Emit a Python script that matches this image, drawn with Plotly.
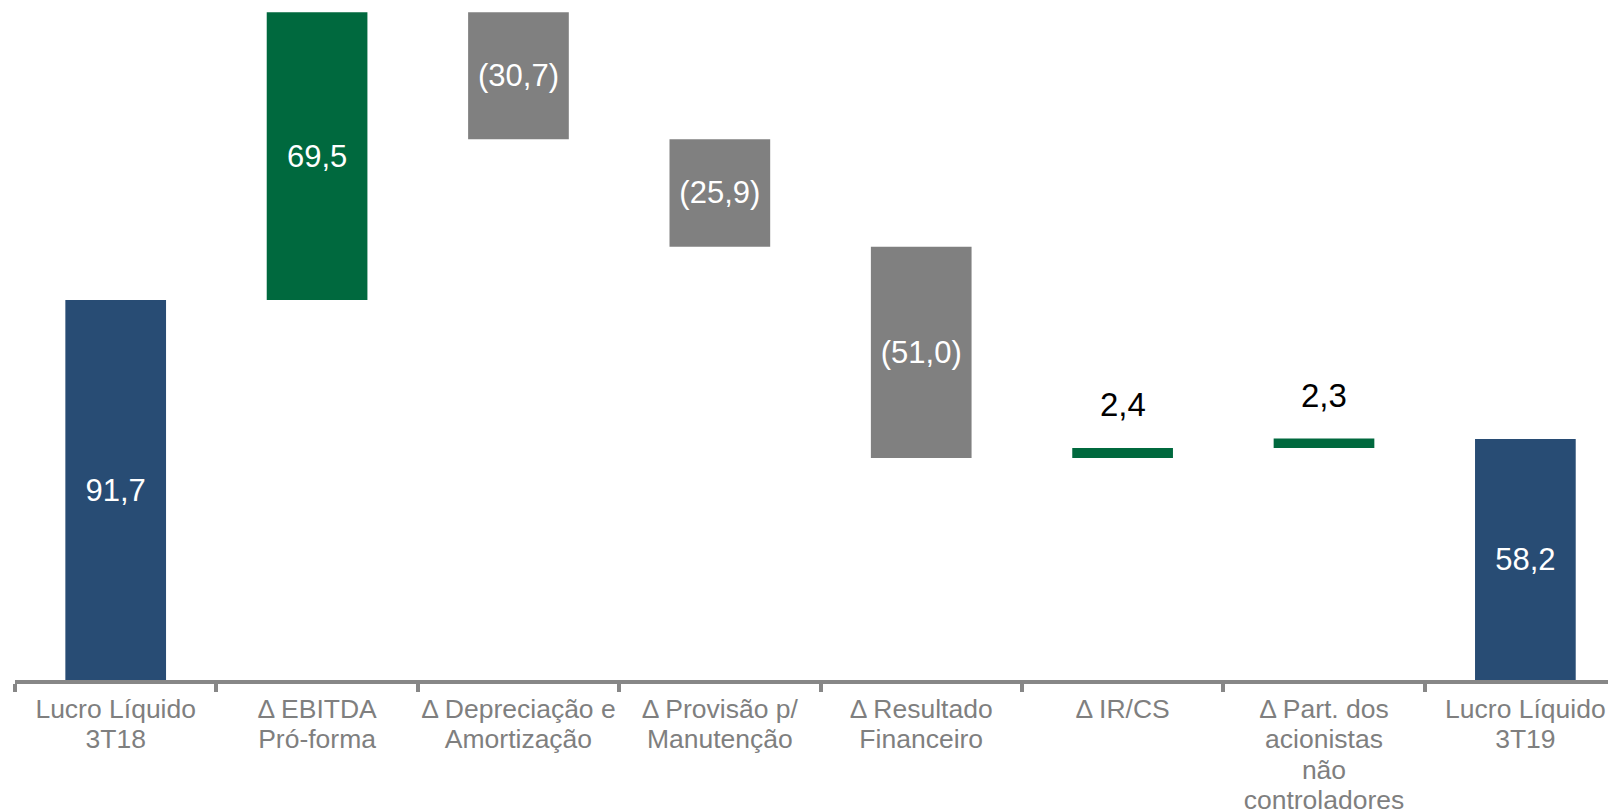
import plotly.graph_objects as go

categories = ["Lucro Líquido 3T18", "Δ EBITDA Pró-forma", "Δ Depreciação e Amortização",
              "Δ Provisão p/ Manutenção", "Δ Resultado Financeiro", "Δ IR/CS",
              "Δ Part. dos acionistas não controladores", "Lucro Líquido 3T19"]
tick_lines = [["Lucro Líquido", "3T18"], ["Δ EBITDA", "Pró-forma"], ["Δ Depreciação e", "Amortização"],
              ["Δ Provisão p/", "Manutenção"], ["Δ Resultado", "Financeiro"], ["Δ IR/CS"],
              ["Δ Part. dos", "acionistas", "não", "controladores"], ["Lucro Líquido", "3T19"]]
values = [91.7, 69.5, -30.7, -25.9, -51.0, 2.4, 2.3, 58.2]
measures = ["absolute", "relative", "relative", "relative", "relative", "relative", "relative", "absolute"]
inside_label = [True, True, True, True, True, False, False, True]

BLUE = "#284C74"
GREEN = "#00693E"
GRAY = "#808080"
AXIS_GRAY = "#878787"
LABEL_GRAY = "#7F7F7F"
FONT = "Liberation Sans, Arial, sans-serif"


def fmt(v):
    s = f"{abs(v):.1f}".replace(".", ",")
    return f"({s})" if v < 0 else s


texts = [fmt(v) if ins else "" for v, ins in zip(values, inside_label)]
tick_labels = ["<br>".join(f'<span style="font-size:26.5px">{ln}</span>' for ln in lines)
               for lines in tick_lines]

fig = go.Figure(go.Waterfall(
    x=categories,
    y=values,
    measure=measures,
    text=texts,
    textposition="inside",
    insidetextanchor="middle",
    textfont=dict(family=FONT, size=31, color="white"),
    increasing=dict(marker=dict(color=GREEN)),
    decreasing=dict(marker=dict(color=GRAY)),
    totals=dict(marker=dict(color=BLUE)),
    connector=dict(visible=False),
    width=0.5,
    hoverinfo="skip",
))

# outside labels above the thin bars
running = 0.0
for cat, v, m, ins in zip(categories, values, measures, inside_label):
    running = v if m == "absolute" else running + v
    top = max(running, running - v) if m == "relative" else running
    if not ins:
        fig.add_annotation(x=cat, y=top, text=fmt(v), showarrow=False,
                           yanchor="middle", yshift=43,
                           font=dict(family=FONT, size=33, color="black"))

fig.update_layout(
    width=1608, height=803,
    margin=dict(l=7, r=0, t=0, b=131),
    paper_bgcolor="white", plot_bgcolor="white",
    showlegend=False,
    font=dict(family=FONT),
)
fig.update_xaxes(
    type="category",
    range=[-0.5, 7.45],
    tickmode="array", tickvals=categories, ticktext=tick_labels,
    tickson="boundaries",
    tickangle=0, automargin=False,
    ticks="outside", ticklen=8, tickwidth=4, tickcolor=AXIS_GRAY,
    showline=True, linecolor=AXIS_GRAY, linewidth=4,
    showgrid=False, zeroline=False,
    ticklabelstandoff=6,
    tickfont=dict(family=FONT, size=23.3, color=LABEL_GRAY),
)
fig.update_yaxes(visible=False, range=[0, 162.2], showgrid=False, zeroline=False, automargin=False)

fig.write_html("out.html")
